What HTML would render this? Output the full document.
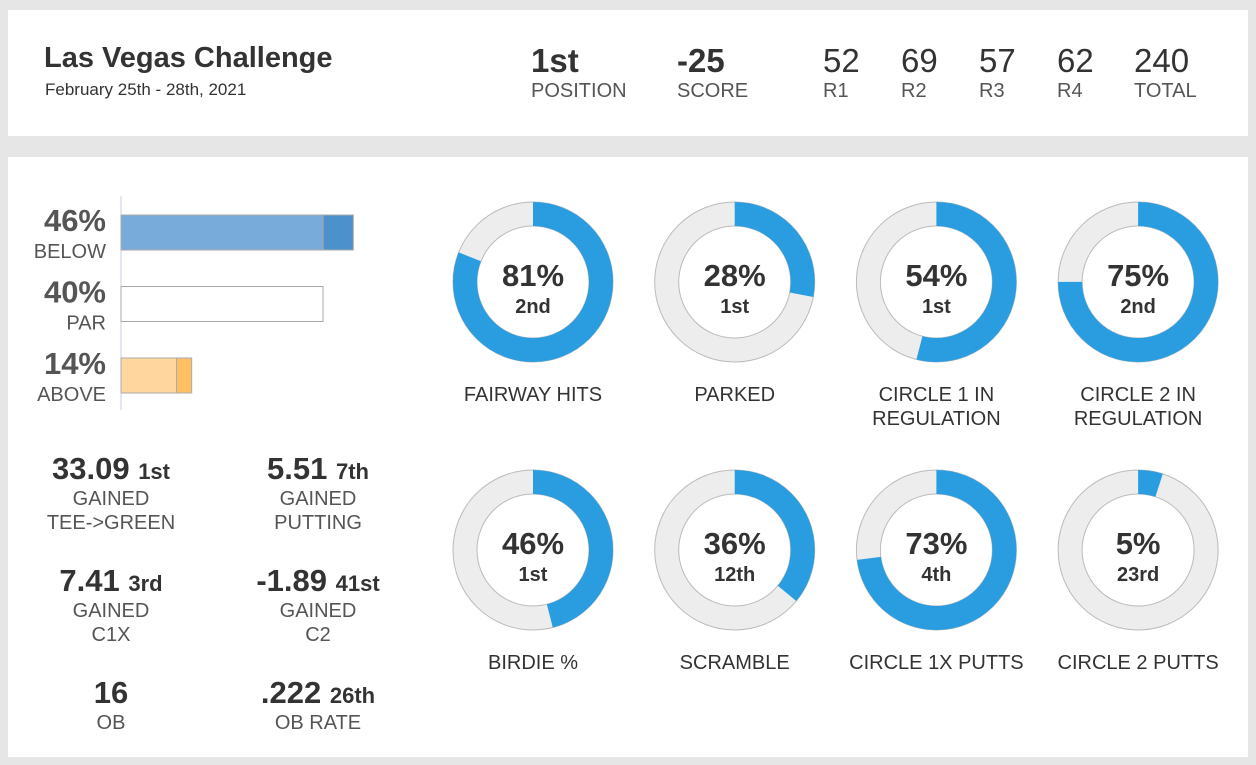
<!DOCTYPE html>
<html><head><meta charset="utf-8">
<style>
body{margin:0;width:1256px;height:765px;background:#e6e6e6;font-family:"Liberation Sans",sans-serif;color:#333;overflow:hidden;position:relative}
.panel{position:absolute;background:#fff}
.abs{position:absolute}
.c{position:absolute;text-align:center;transform:translateX(-50%);white-space:nowrap}
.big{font-weight:bold;font-size:31px;color:#333}
.lbl{font-size:20px;color:#555;line-height:24px}
.hv{font-size:33px;color:#333}
.hl{font-size:20px;color:#555}
</style></head><body>
<div class="panel" style="left:8px;top:10px;width:1240px;height:126px"></div>
<div class="abs" style="left:44px;top:42px;font-size:29px;font-weight:bold;color:#333">Las Vegas Challenge</div>
<div class="abs" style="left:45px;top:80px;font-size:17px;color:#333">February 25th - 28th, 2021</div>
<div class="abs" style="left:531px;top:42px"><div class="hv" style="font-weight:bold">1st</div><div class="hl">POSITION</div></div>
<div class="abs" style="left:677px;top:42px"><div class="hv" style="font-weight:bold">-25</div><div class="hl">SCORE</div></div>
<div class="abs" style="left:823px;top:42px"><div class="hv">52</div><div class="hl">R1</div></div>
<div class="abs" style="left:901px;top:42px"><div class="hv">69</div><div class="hl">R2</div></div>
<div class="abs" style="left:979px;top:42px"><div class="hv">57</div><div class="hl">R3</div></div>
<div class="abs" style="left:1057px;top:42px"><div class="hv">62</div><div class="hl">R4</div></div>
<div class="abs" style="left:1134px;top:42px"><div class="hv">240</div><div class="hl">TOTAL</div></div>

<div class="panel" style="left:8px;top:157px;width:1240px;height:600px"></div>

<svg class="abs" style="left:0;top:0" width="1256" height="765" id="chart"></svg>

<div id="stats"></div>

<script>
const barCats=["BELOW","PAR","ABOVE"];
const barVals=[46,40,14];
const barInner=[40,40,11];
const donutNames=[["FAIRWAY HITS"],["PARKED"],["CIRCLE 1 IN","REGULATION"],["CIRCLE 2 IN","REGULATION"],["BIRDIE %"],["SCRAMBLE"],["CIRCLE 1X PUTTS"],["CIRCLE 2 PUTTS"]];
const donutVals=[81,28,54,75,46,36,73,5];
const donutRanks=["2nd","1st","1st","2nd","1st","12th","4th","23rd"];
const statVals=["33.09","5.51","7.41","-1.89","16",".222"];
const statRanks=["1st","7th","3rd","41st","","26th"];
const statLabels=[["GAINED","TEE->GREEN"],["GAINED","PUTTING"],["GAINED","C1X"],["GAINED","C2"],["OB"],["OB RATE"]];

const svg=document.getElementById('chart');
const NS="http://www.w3.org/2000/svg";
function mk(t,a){const e=document.createElementNS(NS,t);for(const k in a)e.setAttribute(k,a[k]);svg.appendChild(e);return e;}
// bar chart
const x0=121,xs=v=>x0+v*5.05, yb=i=>215+i*71.5;
const ax=mk('line',{x1:x0,x2:x0,y1:196,y2:410,stroke:'#c8cfe0','stroke-width':1});

const fills=[['#78abd9','#4d91cc'],['#fff','#fff'],['#fed69e','#ffc064']];
barCats.forEach((c,i)=>{
 const y=yb(i);
 const r2=mk('rect',{x:x0,y:y,width:xs(barVals[i])-x0,height:35,fill:fills[i][1],stroke:'#aaa'});
 
 const r1=mk('rect',{x:x0,y:y,width:xs(Math.min(barInner[i],barVals[i]))-x0,height:35,fill:fills[i][0],stroke:'#aaa'});
 
 const t=mk('text',{x:106,y:y+16,'text-anchor':'end','font-size':31,'font-weight':'bold',fill:'#555','font-family':'Liberation Sans'});t.textContent=barVals[i]+'%';
 
 const l=mk('text',{x:106,y:y+43,'text-anchor':'end','font-size':20,fill:'#555','font-family':'Liberation Sans'});l.textContent=c;
 
});
// donuts
const R=68,W=24;
donutVals.forEach((v,i)=>{
 const cx=533+(i%4)*201.7, cy=282+Math.floor(i/4)*268;
 const bg=mk('circle',{cx,cy,r:R,fill:'none',stroke:'#ededed','stroke-width':W});
 
 mk('circle',{cx,cy,r:R+W/2,fill:'none',stroke:'#bbb','stroke-width':1});
 mk('circle',{cx,cy,r:R-W/2,fill:'none',stroke:'#bbb','stroke-width':1});
 const C=2*Math.PI*R;
 const arc=mk('circle',{cx,cy,r:R,fill:'none',stroke:'#299de0','stroke-width':W,'stroke-dasharray':(C*v/100)+' '+C,transform:`rotate(-90 ${cx} ${cy})`});
 
 const t=mk('text',{x:cx,y:cy+4,'text-anchor':'middle','font-size':31,'font-weight':'bold',fill:'#333','font-family':'Liberation Sans'});t.textContent=v+'%';
 
 const r=mk('text',{x:cx,y:cy+31,'text-anchor':'middle','font-size':20,'font-weight':'bold',fill:'#333','font-family':'Liberation Sans'});r.textContent=donutRanks[i];
 
 donutNames[i].forEach((ln,j)=>{
  const n=mk('text',{x:cx,y:cy+119+j*24,'text-anchor':'middle','font-size':20,fill:'#333','font-family':'Liberation Sans'});n.textContent=ln;
  
 });
});
// stat blocks
const st=document.getElementById('stats');
statVals.forEach((v,i)=>{
 const cx=i%2?318:111, top=451+Math.floor(i/2)*112;
 const d=document.createElement('div');
 
 
 d.className='c';d.style.left=cx+'px';d.style.top=top+'px';
 let h=`<div class="big">${v}${statRanks[i]?' <span style="font-size:22px">'+statRanks[i]+'</span>':''}</div>`;
 h+=statLabels[i].map(l=>`<div class="lbl">${l}</div>`).join('');
 d.innerHTML=h;st.appendChild(d);
});
</script>
</body></html>
